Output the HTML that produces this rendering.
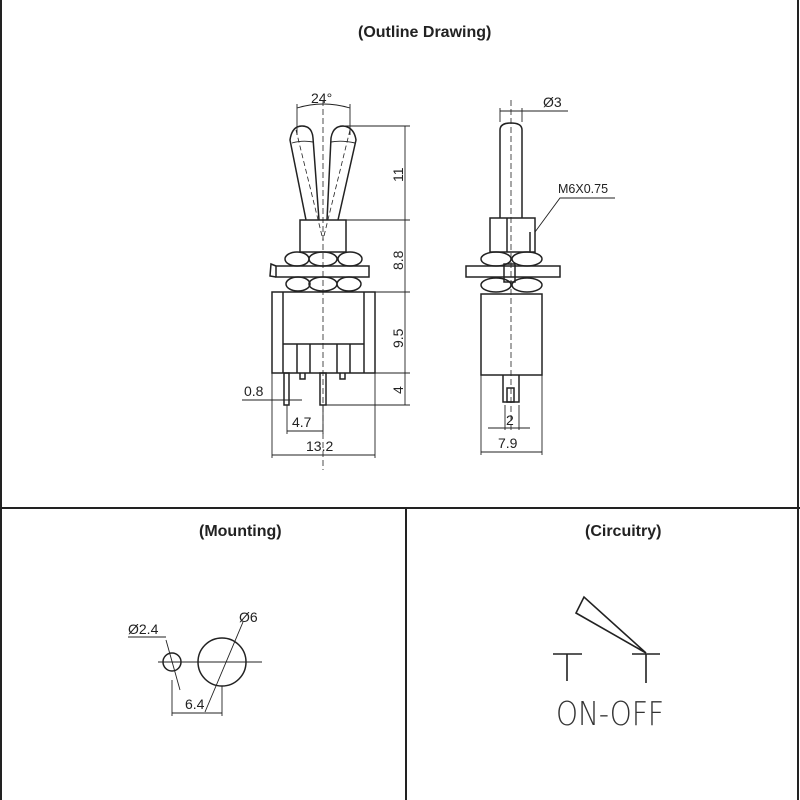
<!DOCTYPE html>
<html><head><style>html,body{margin:0;padding:0;background:#fff}svg{display:block}</style></head><body>
<svg width="800" height="800" viewBox="0 0 800 800" xmlns="http://www.w3.org/2000/svg" font-family="Liberation Sans, sans-serif" fill="none" stroke="#222" stroke-width="1.2">
<!-- frame -->
<line x1="1" y1="0" x2="1" y2="800" stroke-width="2"/>
<line x1="798" y1="0" x2="798" y2="800" stroke-width="2"/>
<line x1="0" y1="508" x2="800" y2="508" stroke-width="2"/>
<line x1="406" y1="508" x2="406" y2="800" stroke-width="2"/>
<g fill="#222" stroke="none" font-size="16" font-weight="bold">
<text x="358" y="37">(Outline Drawing)</text>
<text x="199" y="536">(Mounting)</text>
<text x="585" y="536">(Circuitry)</text>
</g>
<!-- LEFT VIEW -->
<g stroke-width="1.5">
<path d="M306,220 L290,140 Q292,126 302,126 Q312,126 313,138 L319,220"/>
<path d="M327,220 L331,138 Q333,126 343,126 Q354,127 356,140 L338,220"/>
<path d="M292,143 Q302,140 313,142 M331,142 Q342,140 355,143" stroke-width="0.9"/>
<rect x="300" y="220" width="46" height="32"/>
<ellipse cx="297" cy="259" rx="12" ry="7"/><ellipse cx="323" cy="259" rx="14" ry="7"/><ellipse cx="350" cy="259" rx="12" ry="7"/>
<rect x="276" y="266" width="93" height="11"/>
<path d="M276,266 L271,264 L270,276 L276,277"/>
<ellipse cx="298" cy="284" rx="12" ry="7"/><ellipse cx="323" cy="284" rx="14" ry="7"/><ellipse cx="349" cy="284" rx="12" ry="7"/>
<rect x="272" y="292" width="103" height="81"/>
<line x1="283" y1="292" x2="283" y2="373"/><line x1="364" y1="292" x2="364" y2="373"/>
<path d="M283,344 H297 V373 M297,344 H310 V373 M310,344 H337 V373 M337,344 H350 V373 M350,344 H364"/>
<path d="M300,373 v6 h5 v-6 M340,373 v6 h5 v-6"/>
<rect x="284" y="373" width="5" height="32"/>
<rect x="320" y="373" width="6" height="32"/>
<line x1="323" y1="100" x2="323" y2="470" stroke-dasharray="6,3" stroke-width="0.8"/>
<line x1="296" y1="130" x2="323" y2="240" stroke-dasharray="5,3" stroke-width="0.8"/>
<line x1="350" y1="130" x2="323" y2="240" stroke-dasharray="5,3" stroke-width="0.8"/>
</g>
<g stroke-width="0.9">
<path d="M297,108 Q323,100 350,108"/>
<line x1="297" y1="104" x2="297" y2="135"/><line x1="350" y1="104" x2="350" y2="135"/>
<line x1="343" y1="126" x2="410" y2="126"/><line x1="340" y1="220" x2="410" y2="220"/>
<line x1="375" y1="292" x2="410" y2="292"/><line x1="375" y1="373" x2="410" y2="373"/>
<line x1="326" y1="405" x2="410" y2="405"/>
<line x1="405" y1="126" x2="405" y2="405"/>
<line x1="272" y1="373" x2="272" y2="458"/><line x1="375" y1="373" x2="375" y2="458"/>
<line x1="272" y1="455" x2="375" y2="455"/>
<line x1="287" y1="405" x2="287" y2="434"/><line x1="323" y1="405" x2="323" y2="434"/>
<line x1="287" y1="431" x2="323" y2="431"/>
<line x1="242" y1="400" x2="302" y2="400"/>
</g>
<g fill="#222" stroke="none" font-size="14">
<text x="311" y="103">24°</text>
<text x="306" y="451">13.2</text>
<text x="292" y="427">4.7</text>
<text x="244" y="396">0.8</text>
<text transform="translate(403,182) rotate(-90)">11</text>
<text transform="translate(403,270) rotate(-90)">8.8</text>
<text transform="translate(403,348) rotate(-90)">9.5</text>
<text transform="translate(403,394) rotate(-90)">4</text>
</g>
<!-- RIGHT VIEW -->
<g stroke-width="1.5">
<path d="M500,218 V130 Q500,123 511,123 Q522,123 522,130 V218"/>
<rect x="490" y="218" width="45" height="34"/>
<line x1="507" y1="218" x2="507" y2="252"/><line x1="530" y1="232" x2="530" y2="252"/>
<ellipse cx="496" cy="259" rx="15" ry="7"/><ellipse cx="527" cy="259" rx="15" ry="7"/>
<rect x="466" y="266" width="94" height="11"/>
<rect x="504" y="264" width="11" height="18"/>
<ellipse cx="496" cy="285" rx="15" ry="7"/><ellipse cx="527" cy="285" rx="15" ry="7"/>
<rect x="481" y="294" width="61" height="81"/>
<path d="M503,375 V402 H519 V375"/>
<rect x="507" y="388" width="7" height="14"/>
<line x1="511" y1="100" x2="511" y2="430" stroke-dasharray="6,3" stroke-width="0.8"/>
</g>
<g stroke-width="0.9">
<line x1="500" y1="108" x2="500" y2="122"/><line x1="522" y1="108" x2="522" y2="122"/>
<line x1="500" y1="111" x2="568" y2="111"/>
<path d="M535,232 L560,198 H615"/>
<line x1="481" y1="375" x2="481" y2="455"/><line x1="542" y1="375" x2="542" y2="455"/>
<line x1="481" y1="452" x2="542" y2="452"/>
<line x1="505" y1="405" x2="505" y2="430"/><line x1="519" y1="405" x2="519" y2="430"/>
<line x1="488" y1="428" x2="530" y2="428"/>
</g>
<g fill="#222" stroke="none" font-size="14">
<text x="543" y="107">Ø3</text>
<text x="558" y="193" font-size="12.5">M6X0.75</text>
<text x="506" y="425">2</text>
<text x="498" y="448">7.9</text>
</g>
<!-- MOUNTING -->
<g stroke-width="1.5">
<circle cx="172" cy="662" r="9"/>
<circle cx="222" cy="662" r="24"/>
</g>
<g stroke-width="0.9">
<line x1="158" y1="662" x2="262" y2="662"/>
<line x1="166" y1="640" x2="180" y2="690"/>
<line x1="243" y1="622" x2="205" y2="712"/>
<line x1="172" y1="680" x2="172" y2="716"/><line x1="222" y1="686" x2="222" y2="716"/>
<line x1="172" y1="713" x2="222" y2="713"/>
<line x1="128" y1="637" x2="166" y2="637"/>
</g>
<g fill="#222" stroke="none" font-size="14">
<text x="128" y="634">Ø2.4</text>
<text x="239" y="622">Ø6</text>
<text x="185" y="709">6.4</text>
</g>
<!-- CIRCUITRY -->
<g stroke-width="1.6">
<path d="M553,654 H582 M567,654 V681"/>
<path d="M632,654 H660 M646,654 V683"/>
<path d="M646,653 L584,597 L576,613 Z" fill="none"/>
</g>
<text x="556" y="725" fill="#333" stroke="none" font-size="33" textLength="108" lengthAdjust="spacingAndGlyphs" font-family="DejaVu Sans, sans-serif" font-weight="200">ON-OFF</text>
</svg>
</body></html>
